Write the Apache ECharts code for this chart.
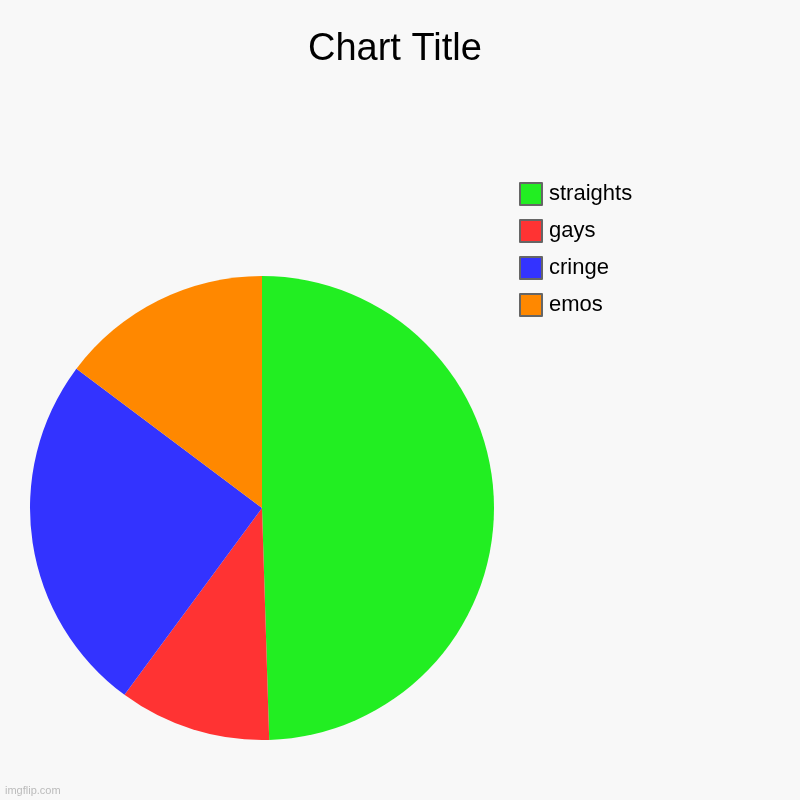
<!DOCTYPE html>
<html>
<head>
<meta charset="utf-8">
<script src="https://cdn.jsdelivr.net/npm/echarts@6/dist/echarts.min.js"></script>
<style>html,body{margin:0;padding:0;background:#f8f8f8}#c{width:800px;height:800px}</style>
</head>
<body>
<div id="c"></div>
<script>
var categories = ['straights', 'gays', 'cringe', 'emos'];
var values = [50, 10.7, 25.4, 14.9];
var colors = ['#22ee22', '#ff3333', '#3333ff', '#ff8800'];

var chart = echarts.init(document.getElementById('c'), null, {renderer: 'canvas'});
chart.setOption({
  backgroundColor: '#f8f8f8',
  animation: false,
  title: {
    text: 'Chart Title',
    left: 303,
    top: 26,
    textStyle: {fontFamily: 'Liberation Sans', fontSize: 38, fontWeight: 'normal', color: '#000'}
  },
  legend: {
    orient: 'vertical',
    left: 514,
    top: 177,
    icon: 'rect',
    itemWidth: 22,
    itemHeight: 22,
    itemGap: 13,
    itemStyle: {borderColor: '#666', borderWidth: 2},
    textStyle: {fontFamily: 'Liberation Sans', fontSize: 22, color: '#000', lineHeight: 22, padding: [0,0,0,2]},
    data: categories
  },
  graphic: [{
    type: 'text', left: 5, top: 785,
    style: {text: 'imgflip.com', fill: '#bbb', font: '11px Liberation Sans'}
  }],
  series: [{
    type: 'pie',
    center: [262, 508],
    radius: 232,
    startAngle: 90,
    clockwise: true,
    label: {show: false},
    labelLine: {show: false},
    emphasis: {disabled: true},
    itemStyle: {borderWidth: 0},
    data: categories.map(function (c, i) {
      return {name: c, value: values[i], itemStyle: {color: colors[i]}};
    })
  }]
});
</script>
</body>
</html>
